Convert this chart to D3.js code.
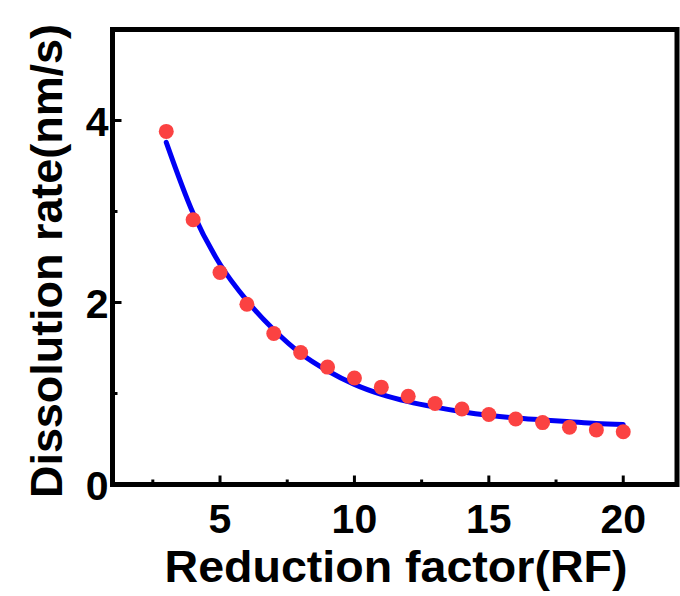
<!DOCTYPE html>
<html>
<head>
<meta charset="utf-8">
<script src="https://cdn.jsdelivr.net/npm/d3@7"></script>
<style>
  body { margin: 0; background: #fff; }
  svg { display: block; font-family: "Liberation Sans", Arial, sans-serif; font-weight: bold; }
</style>
</head>
<body>
<div id="chart"></div>
<script>
// measured points (red dots)
const rf = [3, 4, 5, 6, 7, 8, 9, 10, 11, 12, 13, 14, 15, 16, 17, 18, 19, 20];
const rate = [3.88, 2.91, 2.33, 1.98, 1.66, 1.45, 1.29, 1.17, 1.07, 0.97, 0.89, 0.83, 0.77, 0.72, 0.68, 0.63, 0.60, 0.58];

// fitted curve (blue)
const fitX = [3, 4, 5, 6, 7, 8, 9, 10, 11, 12, 13, 14, 15, 16, 17, 18, 19, 20];
const fitY = [3.76, 2.98, 2.42, 2.02, 1.70, 1.44, 1.25, 1.10, 0.99, 0.91, 0.85, 0.80, 0.76, 0.73, 0.71, 0.69, 0.67, 0.66];

const xTicks = [5, 10, 15, 20];
const xMinor = [2.5, 7.5, 12.5, 17.5];
const yTicks = [0, 2, 4];
const yMinor = [1, 3];

const width = 680, height = 596;
const margin = { left: 112.5, right: 3, top: 29.5, bottom: 111.5 };

const svg = d3.select('#chart').append('svg')
  .attr('width', width)
  .attr('height', height);

const x = d3.scaleLinear().domain([1, 22]).range([margin.left, width - margin.right]);
const y = d3.scaleLinear().domain([0, 5]).range([height - margin.bottom, margin.top]);

// fit line
const line = d3.line()
  .x((d, i) => x(fitX[i]))
  .y(d => y(d))
  .curve(d3.curveMonotoneX);

svg.append('path')
  .datum(fitY)
  .attr('d', line)
  .attr('fill', 'none')
  .attr('stroke', '#0000f5')
  .attr('stroke-width', 5)
  .attr('stroke-linecap', 'round');

// dots
svg.append('g')
  .selectAll('circle')
  .data(rf)
  .enter()
  .append('circle')
  .attr('cx', d => x(d))
  .attr('cy', (d, i) => y(rate[i]))
  .attr('r', 7.5)
  .attr('fill', '#fb4242');

// ticks pointing inward
const tickG = svg.append('g').attr('stroke', '#000').attr('stroke-width', 3);
tickG.selectAll('.xt')
  .data(xTicks.map(v => [v, 9]).concat(xMinor.map(v => [v, 5])))
  .enter().append('line')
  .attr('x1', d => x(d[0])).attr('x2', d => x(d[0]))
  .attr('y1', y(0)).attr('y2', d => y(0) - d[1]);
tickG.selectAll('.yt')
  .data(yTicks.filter(v => v > 0).map(v => [v, 9]).concat(yMinor.map(v => [v, 5])))
  .enter().append('line')
  .attr('y1', d => y(d[0])).attr('y2', d => y(d[0]))
  .attr('x1', x(1)).attr('x2', d => x(1) + d[1]);

// frame
svg.append('rect')
  .attr('x', x(1)).attr('y', y(5))
  .attr('width', x(22) - x(1)).attr('height', y(0) - y(5))
  .attr('fill', 'none')
  .attr('stroke', '#000')
  .attr('stroke-width', 5);

// tick labels
svg.append('g')
  .selectAll('text')
  .data(xTicks)
  .enter().append('text')
  .attr('x', d => x(d))
  .attr('y', 533)
  .attr('text-anchor', 'middle')
  .attr('font-size', 41)
  .text(d => d);

svg.append('g')
  .selectAll('text')
  .data(yTicks)
  .enter().append('text')
  .attr('x', x(1) - 4)
  .attr('y', d => y(d) + 15)
  .attr('text-anchor', 'end')
  .attr('font-size', 41)
  .text(d => d);

// axis titles
svg.append('text')
  .attr('x', 396)
  .attr('y', 582)
  .attr('text-anchor', 'middle')
  .attr('font-size', 44)
  .attr('textLength', 463)
  .attr('lengthAdjust', 'spacingAndGlyphs')
  .text('Reduction factor(RF)');

svg.append('text')
  .attr('transform', 'translate(62,261) rotate(-90)')
  .attr('text-anchor', 'middle')
  .attr('font-size', 45)
  .attr('textLength', 474)
  .attr('lengthAdjust', 'spacingAndGlyphs')
  .text('Dissolution rate(nm/s)');
</script>
</body>
</html>
